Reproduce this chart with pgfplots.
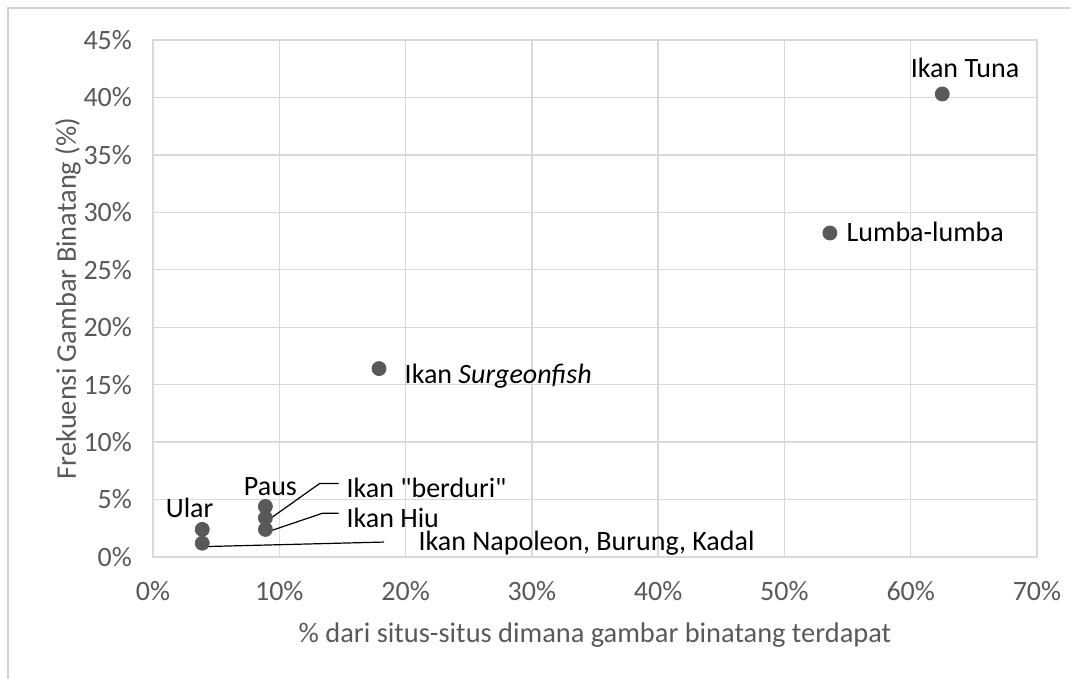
\documentclass[border=0pt]{standalone}
\usepackage{pgfplots}
\pgfplotsset{compat=1.18}
\usepackage{fontspec}
\setmainfont{Carlito}
\definecolor{txt}{HTML}{595959}
\definecolor{grd}{HTML}{D9D9D9}
\definecolor{dot}{HTML}{595959}
\begin{document}
\begin{tikzpicture}
\begin{axis}[
  scale only axis, width=442pt, height=258.5pt,
  at={(0,0)}, anchor=south west,
  xmin=0, xmax=70, ymin=0, ymax=45,
  xtick={0,10,...,70}, ytick={0,5,...,45},
  grid=major, major grid style={grd, line width=0.7pt},
  axis line style={grd, line width=0.7pt},
  tick style={draw=none},
  /pgf/number format/assume math mode=true,
  xticklabel={\pgfmathprintnumber{\tick}\%},
  yticklabel={\pgfmathprintnumber{\tick}\%},
  ticklabel style={font=\fontsize{14}{16}\selectfont, text=txt},
  xticklabel style={yshift=-8.5pt},
  yticklabel style={xshift=-7pt},
  xlabel={\% dari situs-situs dimana gambar binatang terdapat},
  ylabel={Frekuensi Gambar Binatang (\%)},
  label style={font=\fontsize{14.2}{16}\selectfont, text=txt},
  xlabel style={at={(axis description cs:0.5,-0.151)}, anchor=center},
  ylabel style={at={(axis description cs:-0.0962,0.5)}, anchor=center},
  clip=false,
]
\addplot[only marks, mark=*, mark size=3.5pt, mark options={fill=dot, draw=dot}] coordinates {
  (62.5, 40.3)
  (53.6, 28.2)
  (17.9, 16.4)
  (8.9, 4.4)
  (8.9, 3.4)
  (8.9, 2.4)
  (3.9, 2.4)
  (3.9, 1.2)
};
\begin{scope}[every node/.style={font=\fontsize{14}{16}\selectfont, text=black, inner sep=0pt}]
\node[anchor=center] at (axis cs:64.3,42.6) {Ikan Tuna};
\node[anchor=west] at (axis cs:54.9,28.3) {Lumba-lumba};
\node[anchor=west] at (axis cs:19.9,15.7) {Ikan \textit{Surgeonfish}};
\node[anchor=center] at (axis cs:9.3,6.1) {Paus};
\node[anchor=center] at (axis cs:2.9,4.3) {Ular};
\node[anchor=west] at (axis cs:15.3,6.0) {Ikan \textquotedbl berduri\textquotedbl};
\node[anchor=west] at (axis cs:15.3,3.4) {Ikan Hiu};
\node[anchor=west] at (axis cs:21.0,1.2) {Ikan Napoleon, Burung, Kadal};
\end{scope}
\draw[black, line width=0.6pt] (axis cs:9.1,3.2) -- (axis cs:13.2,6.4) -- (axis cs:14.7,6.4);
\draw[black, line width=0.6pt] (axis cs:9.1,2.2) -- (axis cs:13.4,3.8) -- (axis cs:14.7,3.8);
\draw[black, line width=0.6pt] (axis cs:3.9,0.9) -- (axis cs:18.3,1.3);
\end{axis}
\pgfresetboundingbox
\useasboundingbox (-76.5pt,-61pt) rectangle (459pt,278.5pt);
\draw[gray!35, line width=0.8pt] (-72.5pt,-61pt) -- (-72.5pt,274.5pt) -- (459pt,274.5pt);
\end{tikzpicture}
\end{document}
